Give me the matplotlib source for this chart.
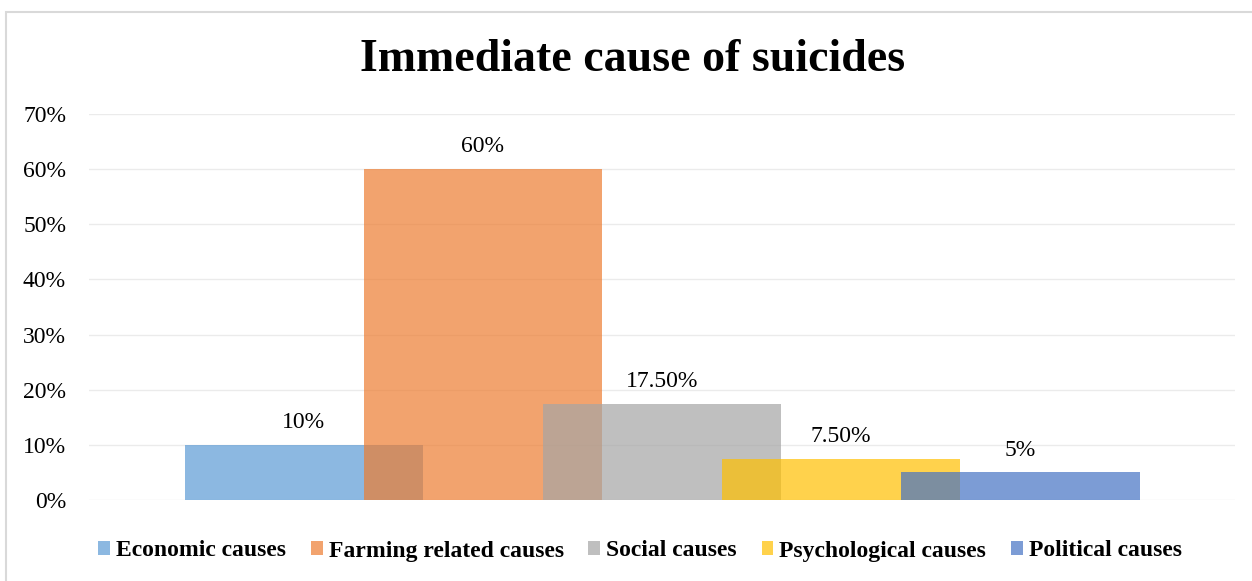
import matplotlib
matplotlib.use("Agg")
import matplotlib.pyplot as plt
from matplotlib.patches import Rectangle
import numpy as np

# Data
causes = ["Economic causes", "Farming related causes", "Social causes",
          "Psychological causes", "Political causes"]
shares = [10, 60, 17.5, 7.5, 5]
value_labels = ["10%", "60%", "17.50%", "7.50%", "5%"]
colors = ["#5B9BD5", "#ED7D31", "#A5A5A5", "#FFC000", "#4472C4"]
yticks = [0, 10, 20, 30, 40, 50, 60, 70]

plt.rcParams["font.family"] = ["Liberation Serif", "DejaVu Serif"]

W, H = 1252, 581
fig = plt.figure(figsize=(W / 100, H / 100), dpi=100)
fig.patch.set_facecolor("white")

# Outer chart border
fig.patches.append(Rectangle((6 / W, -0.1), 1.2, 1 - 12 / H + 0.1,
                             transform=fig.transFigure, fill=False,
                             edgecolor="#D9D9D9", linewidth=1.5))

ax = fig.add_axes([89 / W, (H - 500) / H, (1235 - 89) / W, (500 - 114) / H])

# Clustered bars with overlap (single category)
n = len(shares)
overlap, gap = 0.25, 0.8
width = 1.0 / (n - (n - 1) * overlap + gap)
step = width * (1 - overlap)
xs = (np.arange(n) - (n - 1) / 2) * step

for x, v, c, lab, name in zip(xs, shares, colors, value_labels, causes):
    ax.bar(x, v, width=width, color=c, alpha=0.7, label=name, zorder=2,
           linewidth=0)
    ax.annotate(lab, (x, v), xytext=(0, 12), textcoords="offset points",
                ha="center", va="baseline", fontsize=17, color="#000000")

ax.set_xlim(-0.5, 0.5)
ax.set_ylim(0, 70)
ax.set_yticks(yticks)
ax.set_yticklabels([f"{t}%" for t in yticks], fontsize=17, color="#000000")
ax.set_xticks([])
ax.tick_params(axis="y", length=0, pad=16.5)
ax.grid(axis="y", color="#EBEBEB", linewidth=1.0, zorder=0)
ax.set_axisbelow(True)
for s in ax.spines.values():
    s.set_visible(False)

fig.text(633 / W, 1 - 60 / H, "Immediate cause of suicides", ha="center",
         va="center", fontsize=33, fontweight="bold", color="#000000")

fig.legend(loc="center", bbox_to_anchor=(640 / W, 1 - 551 / H), ncol=5,
           frameon=False, prop={"size": 17, "weight": "bold"},
           handlelength=0.5, handleheight=0.5, handletextpad=0.25,
           columnspacing=1.05, borderpad=0)

fig.savefig("out.png", dpi=100)
